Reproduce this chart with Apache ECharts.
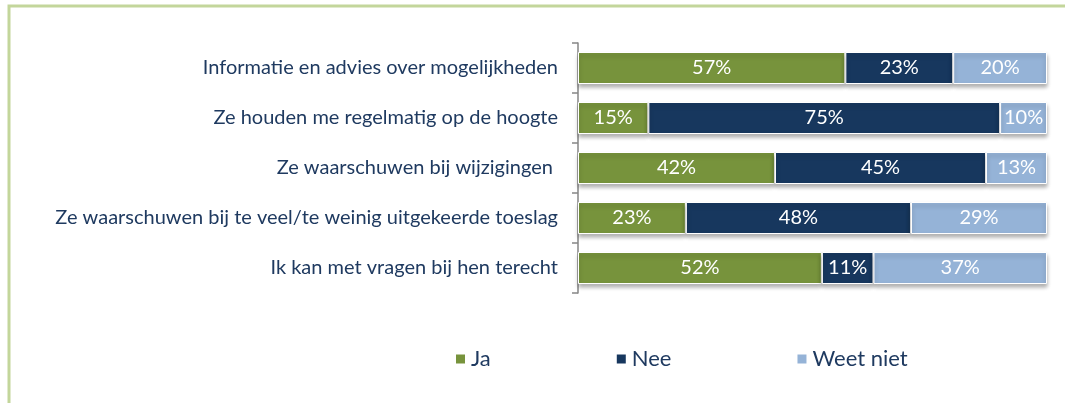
<!DOCTYPE html>
<html>
<head>
    <meta charset="utf-8">
    <title>ECharts</title>
    <script src="https://cdn.jsdelivr.net/npm/echarts@6/dist/echarts.min.js"></script>
    <style>
        body { margin: 0; background: #fff; }
    </style>
</head>
<body>
    <div id="main" style="width: 1065px;height:403px;"></div>
    <script type="text/javascript">
    // data
    var categories = [
        'Informatie en advies over mogelijkheden',
        'Ze houden me regelmatig op de hoogte',
        'Ze waarschuwen bij wijzigingen ',
        'Ze waarschuwen bij te veel/te weinig uitgekeerde toeslag',
        'Ik kan met vragen bij hen terecht'
    ];
    var ja = [57, 15, 42, 23, 52];
    var nee = [23, 75, 45, 48, 11];
    var weetNiet = [20, 10, 13, 29, 37];

    var seriesNames = ['Ja', 'Nee', 'Weet niet'];
    var colors = ['#77933c', '#17375e', '#95b3d7'];
    var values = [ja, nee, weetNiet];

    var myChart = echarts.init(document.getElementById('main'));

    var series = values.map(function (v, i) {
        return {
            name: seriesNames[i],
            type: 'bar',
            stack: 'total',
            barWidth: '64%',
            data: v,
            itemStyle: {
                color: colors[i],
                borderColor: '#ffffff',
                borderWidth: 1,
                shadowBlur: 4,
                shadowOffsetY: 3,
                shadowColor: 'rgba(0,0,0,0.3)'
            },
            label: {
                show: true,
                position: 'inside',
                color: '#ffffff',
                fontSize: 20,
                fontFamily: 'Lato',
                formatter: '{c}%'
            }
        };
    });

    var option = {
        animation: false,
        textStyle: { fontFamily: 'Lato' },
        graphic: [{
            type: 'rect',
            shape: { x: 9, y: 6, width: 1200, height: 600 },
            style: { fill: 'none', stroke: '#c3d69b', lineWidth: 3 }
        }],
        legend: {
            data: seriesNames,
            left: 449,
            top: 343,
            itemWidth: 11,
            itemHeight: 11,
            itemGap: 124,
            icon: 'rect',
            textStyle: { color: '#1f3a60', fontSize: 22, fontFamily: 'Lato' }
        },
        grid: {
            left: 578,
            right: 18,
            top: 43,
            height: 250
        },
        xAxis: {
            type: 'value',
            min: 0,
            max: 100,
            show: false
        },
        yAxis: {
            type: 'category',
            inverse: true,
            data: categories,
            axisLine: { show: true, lineStyle: { color: '#868686', width: 1.5 } },
            axisTick: { show: true, length: 6, lineStyle: { color: '#868686', width: 1.5 } },
            axisLabel: {
                color: '#1f3a60',
                fontSize: 20,
                margin: 20,
                fontFamily: 'Lato'
            }
        },
        series: series
    };

    myChart.setOption(option);
    </script>
</body>
</html>
